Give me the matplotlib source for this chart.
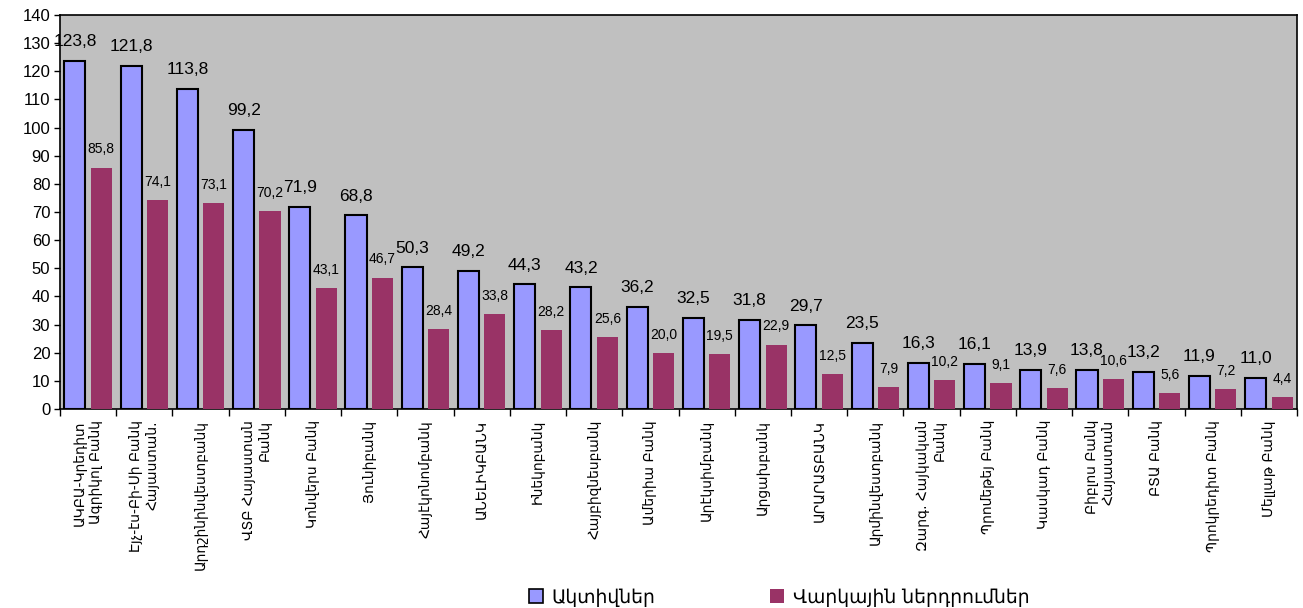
import matplotlib
matplotlib.use("Agg")
import matplotlib.pyplot as plt
import numpy as np
from matplotlib.patches import Patch

categories = [
    "ԱԿԲԱ-Կրեդիտ\nԱգրիկոլ Բանկ",
    "Էյչ-էս-Բի-Սի Բանկ\nՀայաստան.",
    "Արդշինինվեստբանկ",
    "ՎՏԲ Հայաստան\nԲանկ",
    "Կոնվերս Բանկ",
    "Յունիբանկ",
    "Հայէկոնոմբանկ",
    "ԱՆԵԼԻԿԲԱՆԿ",
    "Ինեկոբանկ",
    "Հայբիզնեսբանկ",
    "Ամերիա Բանկ",
    "Արէկսիմբանկ",
    "Արցախբանկ",
    "ԱՐԱՐԱՏԲԱՆԿ",
    "Արմինվեստբանկ",
    "Զարգ. Հայկական\nԲանկ",
    "Պրոմեթեյ Բանկ",
    "Կասկադ Բանկ",
    "Բիբլոս Բանկ\nՀայաստան",
    "ԲՏԱ Բանկ",
    "Պրոկրեդիտ Բանկ",
    "Մելլաթ Բանկ",
]
assets = [123.8, 121.8, 113.8, 99.2, 71.9, 68.8, 50.3, 49.2, 44.3, 43.2, 36.2,
          32.5, 31.8, 29.7, 23.5, 16.3, 16.1, 13.9, 13.8, 13.2, 11.9, 11.0]
loans = [85.8, 74.1, 73.1, 70.2, 43.1, 46.7, 28.4, 33.8, 28.2, 25.6, 20.0,
         19.5, 22.9, 12.5, 7.9, 10.2, 9.1, 7.6, 10.6, 5.6, 7.2, 4.4]
series_names = ["Ակտիվներ", "Վարկային ներդրումներ"]
yticks = list(range(0, 141, 10))

plt.rcParams['font.family'] = ['Liberation Sans', 'DejaVu Sans']

fig = plt.figure(figsize=(13.03, 6.08), dpi=100)
ax = fig.add_axes([60/1303, 1-409/608, (1297-60)/1303, (409-15)/608])
ax.set_facecolor('#C0C0C0')

x = np.arange(len(categories))
w = 0.375
off = 0.235
blue = '#9999FF'
maroon = '#993366'
ax.bar(x - off, assets, w, color=blue, edgecolor='black', linewidth=1.5, zorder=3)
ax.bar(x + off, loans, w, color=maroon, edgecolor='none', zorder=3)

def fmt(v):
    return f"{v:.1f}".replace('.', ',')

for xi, v in zip(x, assets):
    ax.annotate(fmt(v), (xi - off, v), xytext=(0, 8.5), textcoords='offset points',
                ha='center', va='bottom', fontsize=12.5, zorder=4)
for xi, v in zip(x, loans):
    ax.annotate(fmt(v), (xi + off, v), xytext=(0, 8), textcoords='offset points',
                ha='center', va='bottom', fontsize=10, zorder=4)

ax.set_xlim(-0.5, len(categories) - 0.5)
ax.set_ylim(0, 140)
ax.set_yticks(yticks)
ax.set_yticklabels([str(t) for t in yticks], fontsize=12)
ax.tick_params(axis='y', length=4, width=1, pad=3)

ax.set_xticks(np.arange(len(categories) + 1) - 0.5)
ax.set_xticklabels([])
ax.tick_params(axis='x', length=5, width=1)
ax.set_xticks(x, minor=True)
ax.set_xticklabels(categories, minor=True, rotation=90, ha='center', va='top',
                   multialignment='right', fontsize=10, family='DejaVu Sans')
ax.tick_params(axis='x', which='minor', length=0, pad=8)

for s in ax.spines.values():
    s.set_color('black')
    s.set_linewidth(1.2)

handles = [Patch(facecolor=blue, edgecolor='black', linewidth=1.2),
           Patch(facecolor=maroon, edgecolor='none')]
fig.legend(handles, series_names, loc='center', bbox_to_anchor=(0.598, 0.018),
           ncol=2, frameon=False, handlelength=0.75, handleheight=0.75,
           columnspacing=6.1, handletextpad=0.45, prop={'family': 'DejaVu Sans', 'size': 13.5})

fig.savefig('out.png', dpi=100)
